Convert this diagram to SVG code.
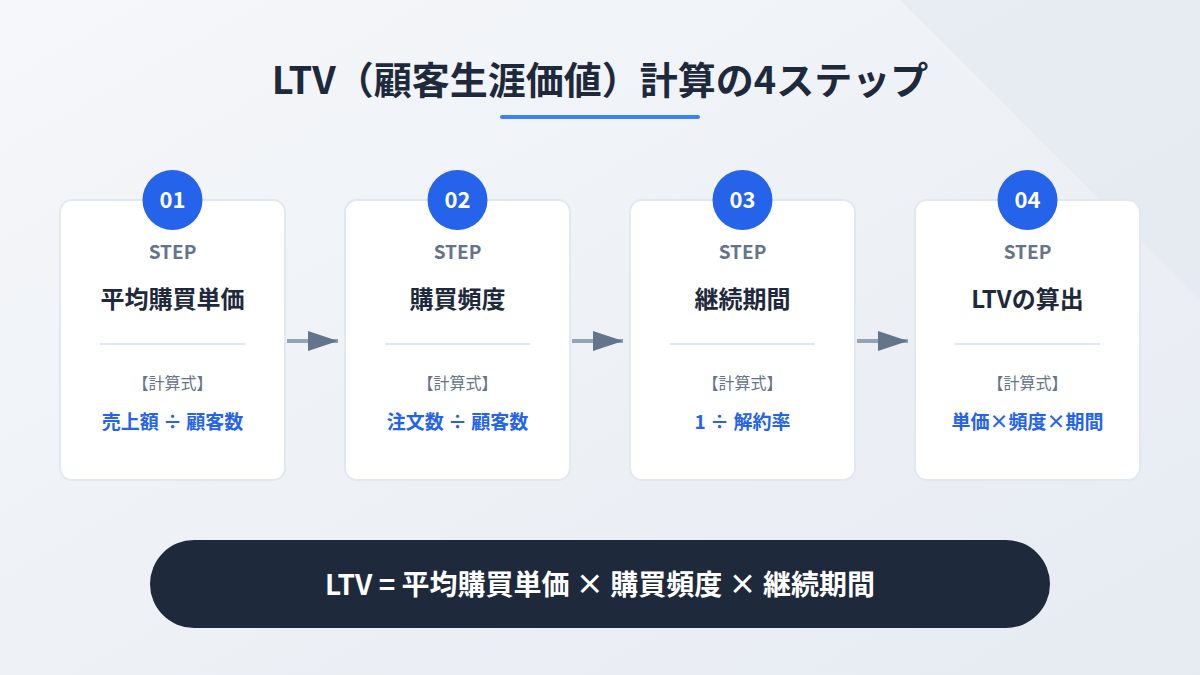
<svg xmlns="http://www.w3.org/2000/svg" width="1200" height="675" viewBox="0 0 1200 675">
<defs>
<linearGradient id="bg" x1="0" y1="0" x2="1" y2="1"><stop offset="0" stop-color="#f5f7fa"/><stop offset="1" stop-color="#e6ebf2"/></linearGradient>
<marker id="ah" viewBox="0 0 10 10" refX="9" refY="5" markerWidth="10" markerHeight="10" markerUnits="userSpaceOnUse" orient="auto"><path d="M0,0 L10,5 L0,10 z" fill="#64748b"/></marker>
<marker id="ar" viewBox="0 0 30 20" refX="30" refY="10" markerWidth="30" markerHeight="20" markerUnits="userSpaceOnUse" orient="auto"><path d="M0,0 L30,10 L0,20 z" fill="#64748b"/></marker>
</defs>
<style>
text{font-family:"Noto Sans CJK JP","Noto Sans",sans-serif;text-anchor:middle}
.card{fill:#fff;stroke:#e2e8f0;stroke-width:2}
.num{fill:#fff;font-size:22px;font-weight:700}
.step{fill:#64748b;font-size:19px;font-weight:700}
.ttl{fill:#1e293b;font-size:24px;font-weight:700}
.lbl{fill:#64748b;font-size:16px}
.fml{fill:#2563eb;font-size:19px;font-weight:700}
.div{stroke:#e2e8f0;stroke-width:2}
</style>
<rect width="1200" height="675" fill="url(#bg)"/>
<polygon points="900,0 1200,0 1200,300" fill="#e2e8f0" opacity="0.6"/>
<text x="600" y="94" font-size="38" font-weight="700" fill="#1e293b">LTV（顧客生涯価値）計算の4ステップ</text>
<rect x="500" y="115" width="200" height="4" rx="2" fill="#3b82f6"/>
<g id="connectors" stroke="#94a3b8" stroke-width="4">
<line x1="287" y1="341" x2="338" y2="341" marker-end="url(#ar)"/>
<line x1="572" y1="341" x2="623" y2="341" marker-end="url(#ar)"/>
<line x1="857" y1="341" x2="908" y2="341" marker-end="url(#ar)"/>
</g>
<g id="step1">
<rect class="card" x="60" y="200" width="225" height="280" rx="12"/>
<circle cx="172.5" cy="200" r="30" fill="#2563eb"/>
<text class="num" x="172.5" y="208">01</text>
<text class="step" x="172.5" y="259">STEP</text>
<text class="ttl" x="172.5" y="308">平均購買単価</text>
<line class="div" x1="100" y1="344" x2="245" y2="344"/>
<text class="lbl" x="172.5" y="389">【計算式】</text>
<text class="fml" x="172.5" y="429">売上額 ÷ 顧客数</text>
</g>
<g id="step2">
<rect class="card" x="345" y="200" width="225" height="280" rx="12"/>
<circle cx="457.5" cy="200" r="30" fill="#2563eb"/>
<text class="num" x="457.5" y="208">02</text>
<text class="step" x="457.5" y="259">STEP</text>
<text class="ttl" x="457.5" y="308">購買頻度</text>
<line class="div" x1="385" y1="344" x2="530" y2="344"/>
<text class="lbl" x="457.5" y="389">【計算式】</text>
<text class="fml" x="457.5" y="429">注文数 ÷ 顧客数</text>
</g>
<g id="step3">
<rect class="card" x="630" y="200" width="225" height="280" rx="12"/>
<circle cx="742.5" cy="200" r="30" fill="#2563eb"/>
<text class="num" x="742.5" y="208">03</text>
<text class="step" x="742.5" y="259">STEP</text>
<text class="ttl" x="742.5" y="308">継続期間</text>
<line class="div" x1="670" y1="344" x2="815" y2="344"/>
<text class="lbl" x="742.5" y="389">【計算式】</text>
<text class="fml" x="742.5" y="429">1 ÷ 解約率</text>
</g>
<g id="step4">
<rect class="card" x="915" y="200" width="225" height="280" rx="12"/>
<circle cx="1027.5" cy="200" r="30" fill="#2563eb"/>
<text class="num" x="1027.5" y="208">04</text>
<text class="step" x="1027.5" y="259">STEP</text>
<text class="ttl" x="1027.5" y="308">LTVの算出</text>
<line class="div" x1="955" y1="344" x2="1100" y2="344"/>
<text class="lbl" x="1027.5" y="389">【計算式】</text>
<text class="fml" x="1027.5" y="429">単価×頻度×期間</text>
</g>
<g id="formula">
<rect x="150" y="540" width="900" height="88" rx="44" fill="#1e293b"/>
<text x="600" y="595" font-size="28" font-weight="700" fill="#fff">LTV = 平均購買単価 × 購買頻度 × 継続期間</text>
</g>
</svg>
